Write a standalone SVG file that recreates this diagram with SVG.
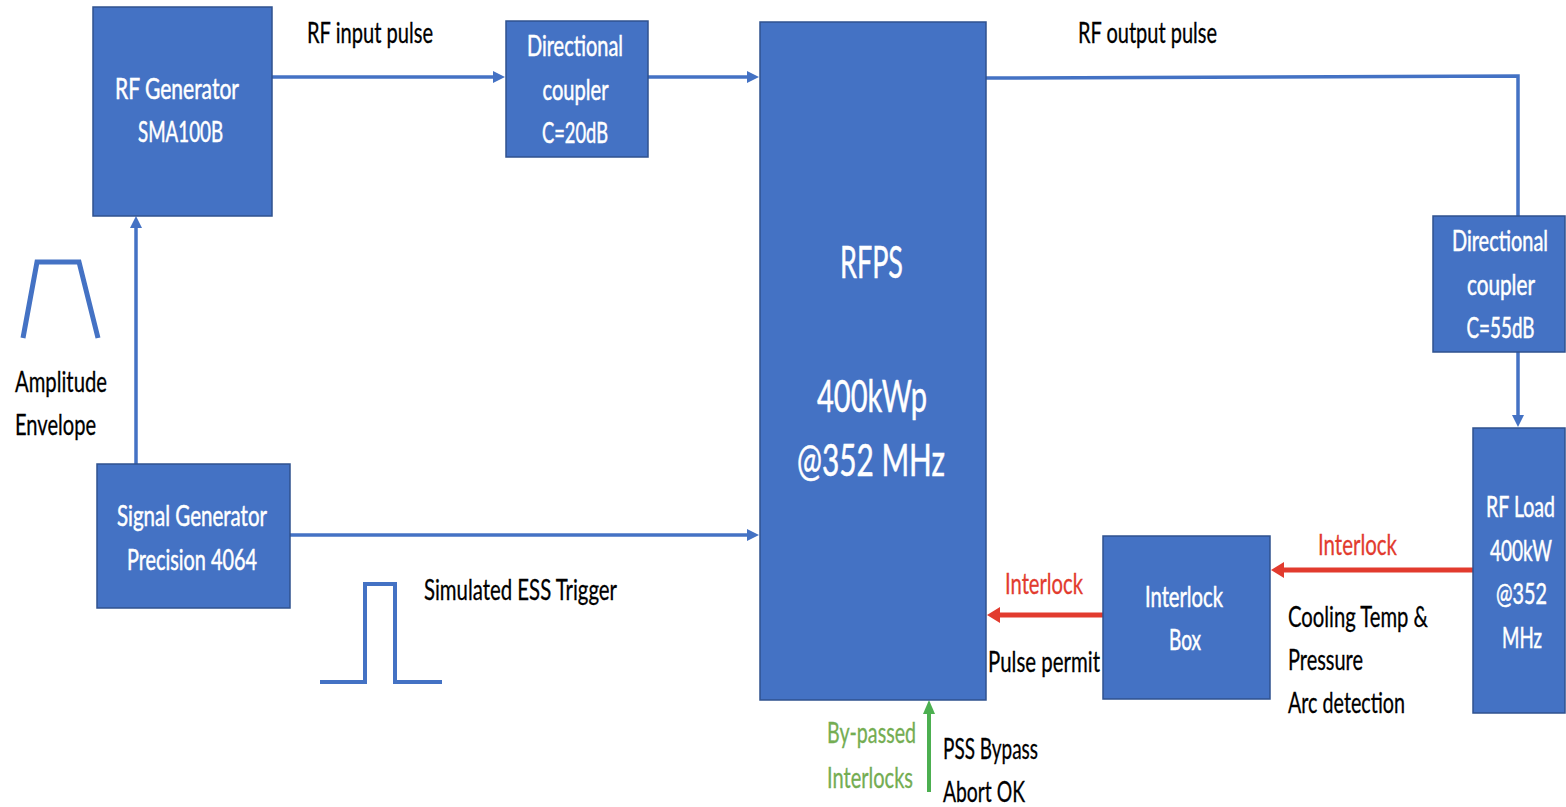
<svg xmlns="http://www.w3.org/2000/svg" width="1566" height="807" viewBox="0 0 1566 807">
<style>
.box{fill:#4472C4;stroke:#2F528F;stroke-width:1.5}
.t{font-family:Lato,"Liberation Sans",sans-serif;font-size:28px;stroke-width:0.5}
.w{fill:#FFFFFF;stroke:#FFFFFF}
.k{fill:#000000;stroke:#000000;stroke-width:0.3}
.r{fill:#E23B2E;stroke:#E23B2E;stroke-width:0.3}
.g{fill:#74AD52;stroke:#74AD52;stroke-width:0.3}
.m{text-anchor:middle}
.big{font-size:44px}
.bl{fill:none;stroke:#4472C4;stroke-width:3.5}
.rl{fill:none;stroke:#E23B2E;stroke-width:5}
.gl{fill:none;stroke:#4CAF50;stroke-width:4}
.sh{fill:none;stroke:#4472C4;stroke-linejoin:miter}
</style>
<defs>
<marker id="ab" markerUnits="userSpaceOnUse" viewBox="0 0 12 12" refX="0" refY="6" markerWidth="12" markerHeight="12" orient="auto"><path d="M0,0 L12,6 L0,12 z" fill="#4472C4"/></marker>
<marker id="ar" markerUnits="userSpaceOnUse" viewBox="0 0 13 16" refX="0" refY="8" markerWidth="13" markerHeight="16" orient="auto"><path d="M0,0 L13,8 L0,16 z" fill="#E23B2E"/></marker>
<marker id="ag" markerUnits="userSpaceOnUse" viewBox="0 0 14 12" refX="0" refY="6" markerWidth="14" markerHeight="12" orient="auto"><path d="M0,0 L14,6 L0,12 z" fill="#4CAF50"/></marker>
</defs>
<rect width="1566" height="807" fill="#FFFFFF"/>

<g id="connectors">
<path class="bl" d="M272,77 H493" marker-end="url(#ab)"/>
<path class="bl" d="M648,77 H747" marker-end="url(#ab)"/>
<path class="bl" d="M986,78 L1518,76 V216"/>
<path class="bl" d="M1518,352 V415" marker-end="url(#ab)"/>
<path class="bl" d="M136,464 V228" marker-end="url(#ab)"/>
<path class="bl" d="M290,535 H747" marker-end="url(#ab)"/>
<path class="rl" d="M1473,570 H1284" marker-end="url(#ar)"/>
<path class="rl" d="M1103,615 H1000" marker-end="url(#ar)"/>
<path class="gl" d="M929,792 V714" marker-end="url(#ag)"/>
</g>

<g id="rf-generator">
<rect class="box" x="93" y="7" width="179" height="209"/>
<text class="t w m" x="177" y="99" textLength="124" lengthAdjust="spacingAndGlyphs">RF Generator</text>
<text class="t w m" x="180.5" y="142" textLength="85" lengthAdjust="spacingAndGlyphs">SMA100B</text>
</g>

<g id="coupler-20">
<rect class="box" x="506" y="21" width="142" height="136"/>
<text class="t w m" x="575" y="56" textLength="96" lengthAdjust="spacingAndGlyphs">Directional</text>
<text class="t w m" x="575.5" y="100" textLength="66" lengthAdjust="spacingAndGlyphs">coupler</text>
<text class="t w m" x="575" y="143" textLength="66" lengthAdjust="spacingAndGlyphs">C=20dB</text>
</g>

<g id="rfps">
<rect class="box" x="760" y="22" width="226" height="678"/>
<text class="t big w m" x="871.5" y="278" textLength="63" lengthAdjust="spacingAndGlyphs">RFPS</text>
<text class="t big w m" x="872" y="412" textLength="110" lengthAdjust="spacingAndGlyphs">400kWp</text>
<text class="t big w m" x="871" y="476" textLength="148" lengthAdjust="spacingAndGlyphs">@352 MHz</text>
</g>

<g id="coupler-55">
<rect class="box" x="1433" y="216" width="132" height="136"/>
<text class="t w m" x="1500" y="251" textLength="96" lengthAdjust="spacingAndGlyphs">Directional</text>
<text class="t w m" x="1501" y="295" textLength="68" lengthAdjust="spacingAndGlyphs">coupler</text>
<text class="t w m" x="1500.5" y="338" textLength="68" lengthAdjust="spacingAndGlyphs">C=55dB</text>
</g>

<g id="rf-load">
<rect class="box" x="1473" y="428" width="92" height="285"/>
<text class="t w m" x="1520.5" y="517" textLength="69" lengthAdjust="spacingAndGlyphs">RF Load</text>
<text class="t w m" x="1521" y="561" textLength="62" lengthAdjust="spacingAndGlyphs">400kW</text>
<text class="t w m" x="1521.5" y="604" textLength="51" lengthAdjust="spacingAndGlyphs">@352</text>
<text class="t w m" x="1522" y="648" textLength="40" lengthAdjust="spacingAndGlyphs">MHz</text>
</g>

<g id="interlock-box">
<rect class="box" x="1103" y="536" width="167" height="163"/>
<text class="t w m" x="1184" y="607" textLength="78" lengthAdjust="spacingAndGlyphs">Interlock</text>
<text class="t w m" x="1185" y="650" textLength="32" lengthAdjust="spacingAndGlyphs">Box</text>
</g>

<g id="signal-generator">
<rect class="box" x="97" y="464" width="193" height="144"/>
<text class="t w m" x="192" y="526" textLength="150" lengthAdjust="spacingAndGlyphs">Signal Generator</text>
<text class="t w m" x="192" y="570" textLength="130" lengthAdjust="spacingAndGlyphs">Precision 4064</text>
</g>

<g id="labels">
<text class="t k" x="307" y="43" textLength="126" lengthAdjust="spacingAndGlyphs">RF input pulse</text>
<text class="t k" x="1078" y="43" textLength="139" lengthAdjust="spacingAndGlyphs">RF output pulse</text>
<text class="t k" x="15" y="392" textLength="92" lengthAdjust="spacingAndGlyphs">Amplitude</text>
<text class="t k" x="15" y="435" textLength="81" lengthAdjust="spacingAndGlyphs">Envelope</text>
<text class="t k" x="424" y="600" textLength="193" lengthAdjust="spacingAndGlyphs">Simulated ESS Trigger</text>
<text class="t r" x="1318" y="555" textLength="79" lengthAdjust="spacingAndGlyphs">Interlock</text>
<text class="t r" x="1005" y="594" textLength="78" lengthAdjust="spacingAndGlyphs">Interlock</text>
<text class="t k" x="988" y="672" textLength="112" lengthAdjust="spacingAndGlyphs">Pulse permit</text>
<text class="t k" x="1288" y="627" textLength="140" lengthAdjust="spacingAndGlyphs">Cooling Temp &amp;</text>
<text class="t k" x="1288" y="670" textLength="75" lengthAdjust="spacingAndGlyphs">Pressure</text>
<text class="t k" x="1288" y="713" textLength="117" lengthAdjust="spacingAndGlyphs">Arc detection</text>
<text class="t g" x="827" y="743" textLength="89" lengthAdjust="spacingAndGlyphs">By-passed</text>
<text class="t g" x="827" y="788" textLength="86" lengthAdjust="spacingAndGlyphs">Interlocks</text>
<text class="t k" x="943" y="759" textLength="95" lengthAdjust="spacingAndGlyphs">PSS Bypass</text>
<text class="t k" x="943" y="802" textLength="82" lengthAdjust="spacingAndGlyphs">Abort OK</text>
</g>

<g id="waveforms">
<path class="sh" stroke-width="5" d="M23,338 L37,262 H79 L98,338"/>
<path class="sh" stroke-width="4" d="M320,682 H365 V584 H395 V682 H442"/>
</g>
</svg>
